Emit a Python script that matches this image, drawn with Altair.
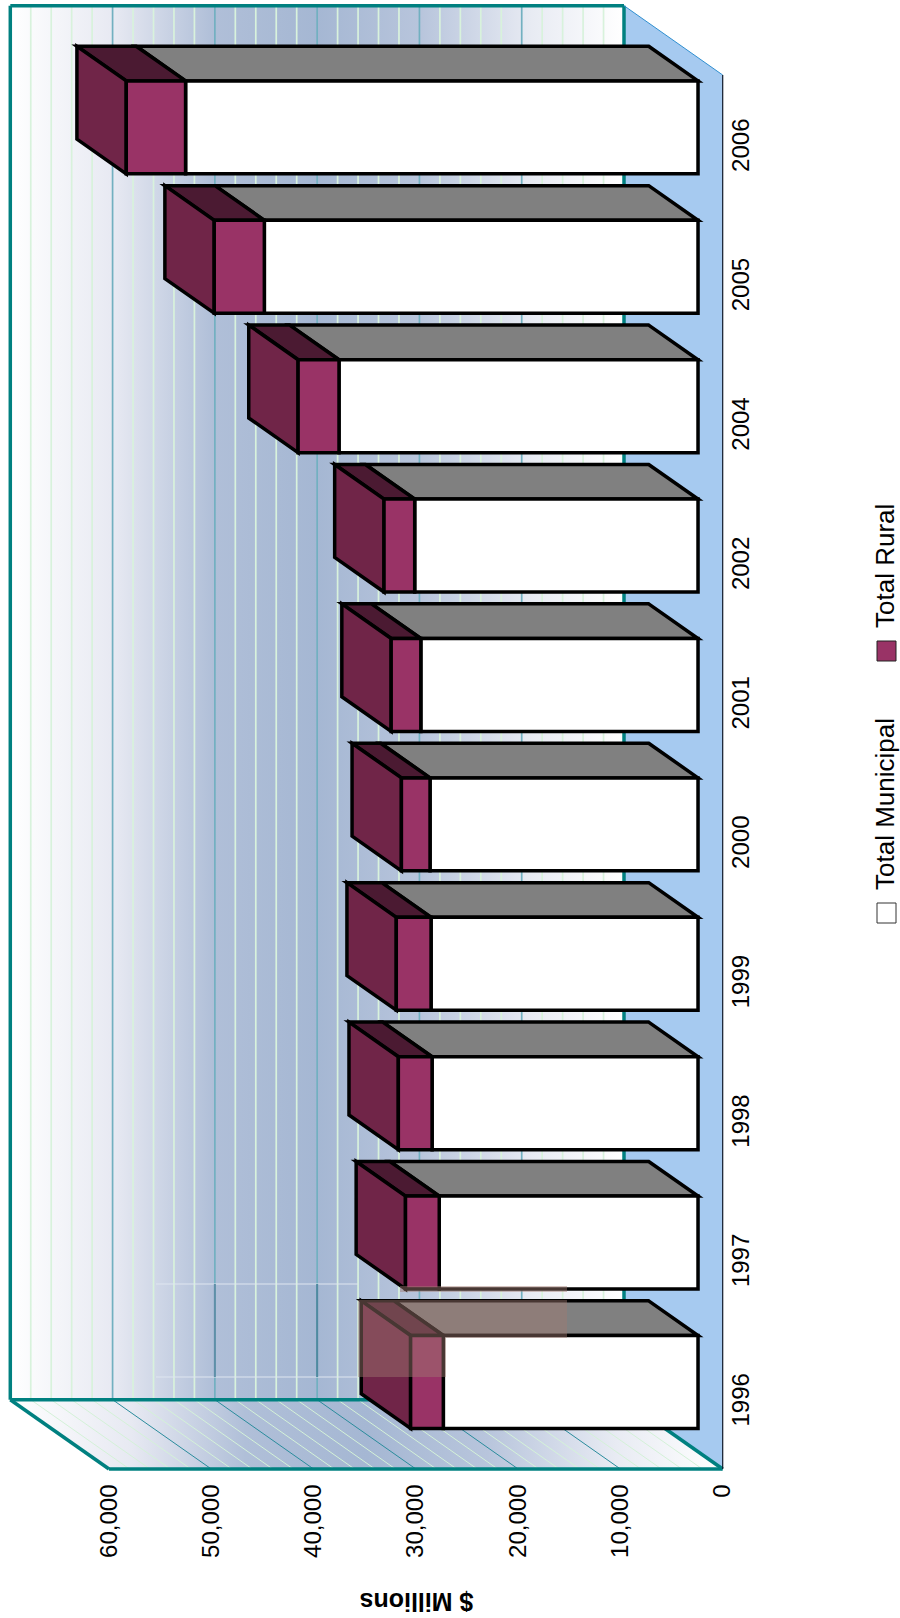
import json

import altair as alt
import pandas as pd

# Municipal and rural spending, $ millions
years = ["1996", "1997", "1998", "1999", "2000", "2001", "2002", "2004", "2005", "2006"]
municipal = [24900, 25300, 26000, 26100, 26200, 27100, 27700, 35100, 42400, 50100]
rural = [3200, 3300, 3300, 3400, 2800, 2900, 3000, 4000, 4900, 5800]
value_ticks = [0, 10000, 20000, 30000, 40000, 50000, 60000]
series = ["Total Municipal", "Total Rural"]

TEAL = "#008080"
BLUE = "#a6caf0"
PINK = "#993366"
PURPLE = "#702548"
DARK = "#4b1a32"
GREY = "#808080"
FONT = "Liberation Sans"

# Plot geometry: the front plane of the box, and how far its depth shifts things
W, H = 723, 1469
ZERO_X = 722.7
PX_PER_VALUE = (722.7 - 109) / 60000
PX_PER_SLOT = 139.4
DEPTH_V = 98.7 / PX_PER_VALUE
DEPTH_S = 69.3 / PX_PER_SLOT
BAR_FRONT, BAR_BACK = 0.25, 0.75
N = len(years)

x_scale = alt.Scale(domain=[ZERO_X / PX_PER_VALUE, (ZERO_X - W) / PX_PER_VALUE], nice=False, zero=False)
y_scale = alt.Scale(domain=[0, H / PX_PER_SLOT], nice=False, zero=False)

# Every layer shares these two axes
x_axis = alt.Axis(
    values=value_ticks, grid=False, domain=False, ticks=False,
    labelExpr="format(datum.value, ',')",
    labelAngle=270, labelAlign="right", labelBaseline="middle", labelPadding=15,
    labelFont=FONT, labelFontSize=24, labelColor="black",
    title="$ Millions", titleAngle=180, titleFont=FONT, titleFontSize=25,
    titleFontWeight="bold", titleColor="black", titleX=416, titleY=131,
    titleAlign="center", titleBaseline="middle",
)
y_axis = alt.Axis(
    orient="right", values=[i + 0.5 for i in range(N)], grid=False, domain=False, ticks=False,
    labelExpr=json.dumps(years) + "[floor(datum.value)]",
    labelAngle=270, labelAlign="center", labelBaseline="middle", labelPadding=18,
    labelFont=FONT, labelFontSize=24, labelColor="black", title=None,
)
PLAIN_X = alt.X("x:Q", scale=x_scale, axis=x_axis, stack=None)
PLAIN_Y = alt.Y("y:Q", scale=y_scale, axis=y_axis, stack=None)


def vx(value, depth=0.0):
    return value + depth * DEPTH_V


def sy(slot, depth=0.0):
    return slot + depth * DEPTH_S


def px_value(px):
    return (ZERO_X - px) / PX_PER_VALUE


def px_slot(py):
    return (H - py) / PX_PER_SLOT


def gradient():
    return alt.Gradient(
        gradient="linear",
        x1=0, x2=1, y1=0, y2=0,
        stops=[
            alt.GradientStop(color="#ffffff", offset=0),
            alt.GradientStop(color="#e7e9f2", offset=0.17),
            alt.GradientStop(color="#b0bfd8", offset=0.33),
            alt.GradientStop(color="#a5b7d3", offset=0.5),
            alt.GradientStop(color="#b8c5dc", offset=0.67),
            alt.GradientStop(color="#e8ebf3", offset=0.85),
            alt.GradientStop(color="#ffffff", offset=1),
        ],
    )


def segments(rows):
    frame = pd.DataFrame(rows, columns=["x", "y", "x2", "y2", "stroke", "w"])
    return alt.Chart(frame).mark_rule().encode(
        x=PLAIN_X, y=PLAIN_Y, x2="x2:Q", y2="y2:Q",
        color=alt.Color("stroke:N", scale=None),
        strokeWidth=alt.StrokeWidth("w:Q", scale=None),
    )


# Back wall
wall = alt.Chart(pd.DataFrame([{
    "x": vx(60000, 1), "x2": vx(0, 1), "y": sy(0, 1), "y2": sy(N, 1)
}])).mark_rect(fill=gradient()).encode(x=PLAIN_X, x2="x2:Q", y=PLAIN_Y, y2="y2:Q")

# Side plane in pale blue
side = alt.Chart(pd.DataFrame([
    {"x": vx(0, 1), "y": sy(0, 1), "y2": sy(N, 1)},
    {"x": vx(0, 0), "y": sy(0, 0), "y2": sy(N, 0)},
])).mark_area(orient="vertical", fill=BLUE).encode(x=PLAIN_X, y=PLAIN_Y, y2="y2:Q")

# Floor plane
floor = alt.Chart(pd.DataFrame([
    {"x": vx(60000, 1), "x2": vx(0, 1), "y": sy(0, 1)},
    {"x": vx(60000, 0), "x2": vx(0, 0), "y": sy(0, 0)},
])).mark_area(orient="horizontal", fill=gradient()).encode(x=PLAIN_X, x2="x2:Q", y=PLAIN_Y)

# Grid lines on the wall and across the floor
grid_rows = []
for v in range(2000, 60000, 2000):
    major = v % 10000 == 0
    grid_rows.append((vx(v, 1), sy(0, 1), vx(v, 1), sy(N, 1), "#72b0c0" if major else "#d8f2dc", 1.7))
    grid_rows.append((vx(v, 1), sy(0, 1), vx(v, 0), sy(0, 0), "#2a8c9c" if major else "#d4f2d8", 1))
grid = segments(grid_rows)

# Box outline
frame_rows = [
    (vx(60000, 1), sy(N, 1), vx(0, 1), sy(N, 1), TEAL, 3.5),
    (vx(60000, 1), sy(N, 1), vx(60000, 1), sy(0, 1), TEAL, 3.5),
    (vx(0, 1), sy(N, 1), vx(0, 1), sy(0, 1), TEAL, 3.5),
    (vx(60000, 1), sy(0, 1), vx(0, 1), sy(0, 1), TEAL, 3.5),
    (vx(60000, 1), sy(0, 1), vx(60000, 0), sy(0, 0), TEAL, 3.5),
    (vx(60000, 0), sy(0, 0), vx(0, 0), sy(0, 0), TEAL, 3.5),
    (vx(0, 1), sy(0, 1), vx(0, 0), sy(0, 0), TEAL, 3.5),
    (vx(0, 1), sy(N, 1), vx(0, 0), sy(N, 0), "#2f8fd0", 1),
    (vx(0, 0), sy(N, 0), vx(0, 0), sy(0, 0), "#101828", 1.2),
]
box = segments(frame_rows)

# The three visible faces of every stacked bar
top_rows, end_rows, front_rows = [], [], []
for i, (m, r) in enumerate(zip(municipal, rural)):
    low, high = i + 1 / 6, i + 5 / 6
    total = m + r
    for d in (BAR_FRONT, BAR_BACK):
        top_rows.append({"x": vx(0, d), "x2": vx(m, d), "y": sy(high, d), "face": f"m{i}", "fill": GREY})
        top_rows.append({"x": vx(m, d), "x2": vx(total, d), "y": sy(high, d), "face": f"r{i}", "fill": DARK})
        end_rows.append({"x": vx(total, d), "y": sy(low, d), "y2": sy(high, d), "face": f"e{i}", "fill": PURPLE})
    front_rows.append({"x": vx(0, BAR_FRONT), "x2": vx(m, BAR_FRONT), "y": sy(low, BAR_FRONT), "y2": sy(high, BAR_FRONT), "fill": "#ffffff"})
    front_rows.append({"x": vx(m, BAR_FRONT), "x2": vx(total, BAR_FRONT), "y": sy(low, BAR_FRONT), "y2": sy(high, BAR_FRONT), "fill": PINK})

BAR_LINE = 3.5
tops = alt.Chart(pd.DataFrame(top_rows)).mark_area(orient="horizontal", stroke="black", strokeWidth=BAR_LINE).encode(
    x=PLAIN_X, x2="x2:Q", y=PLAIN_Y,
    fill=alt.Fill("fill:N", scale=None), detail="face:N",
)
ends = alt.Chart(pd.DataFrame(end_rows)).mark_area(orient="vertical", stroke="black", strokeWidth=BAR_LINE).encode(
    x=PLAIN_X, y=PLAIN_Y, y2="y2:Q",
    fill=alt.Fill("fill:N", scale=None), detail="face:N",
)
fronts = alt.Chart(pd.DataFrame(front_rows)).mark_rect(stroke="black", strokeWidth=BAR_LINE).encode(
    x=PLAIN_X, x2="x2:Q", y=PLAIN_Y, y2="y2:Q", fill=alt.Fill("fill:N", scale=None),
)

# Washed-out band across the oldest bar
wash_left, wash_right, wash_top, wash_bottom = 156, 567, 1284, 1377
wash_rows = [
    {"x": px_value(358), "x2": px_value(wash_right), "y": px_slot(1300), "y2": px_slot(1338)},
    {"x": px_value(358), "x2": px_value(446), "y": px_slot(1338), "y2": px_slot(wash_bottom)},
    {"x": px_value(400), "x2": px_value(wash_right), "y": px_slot(1286), "y2": px_slot(1292)},
]
wash = alt.Chart(pd.DataFrame(wash_rows)).mark_rect(fill="#a07a71", opacity=0.45).encode(
    x=PLAIN_X, x2="x2:Q", y=PLAIN_Y, y2="y2:Q"
)
wash_lines = segments([
    (px_value(wash_left), px_slot(wash_top), px_value(358), px_slot(wash_top), "#dfe6f0", 1),
    (px_value(wash_left), px_slot(wash_bottom), px_value(358), px_slot(wash_bottom), "#dfe6f0", 1),
    (vx(30000, 1), px_slot(wash_top), vx(30000, 1), px_slot(wash_bottom), "#4f8aa0", 2),
    (vx(40000, 1), px_slot(wash_top), vx(40000, 1), px_slot(wash_bottom), "#5f8fa8", 2),
])

# Legend written sideways at the right edge
legend_layers = []
for name, fill, stroke, text_y, box_top in zip(series, ["#ffffff", PINK], ["#333333", "#222222"], [890, 628], [903, 641]):
    one = alt.Chart(pd.DataFrame({"series": [name]}))
    legend_layers.append(one.mark_rect(fill=fill, stroke=stroke, strokeWidth=1).encode(
        x=alt.value(877), x2=alt.value(896), y=alt.value(box_top), y2=alt.value(box_top + 20)
    ))
    legend_layers.append(one.mark_text(
        angle=270, align="left", baseline="middle", font=FONT, fontSize=26, color="black"
    ).encode(x=alt.value(886), y=alt.value(text_y), text="series:N"))

chart = alt.layer(
    wall, side, floor, grid, box, tops, ends, fronts, wash, wash_lines, *legend_layers
).properties(
    width=W, height=H, autosize="none",
    padding={"left": 0, "top": 0, "right": 900 - W, "bottom": 1618 - H},
    background="white",
).configure_view(stroke=None)

chart.save("out.html", embed_options={"renderer": "svg", "actions": False})
